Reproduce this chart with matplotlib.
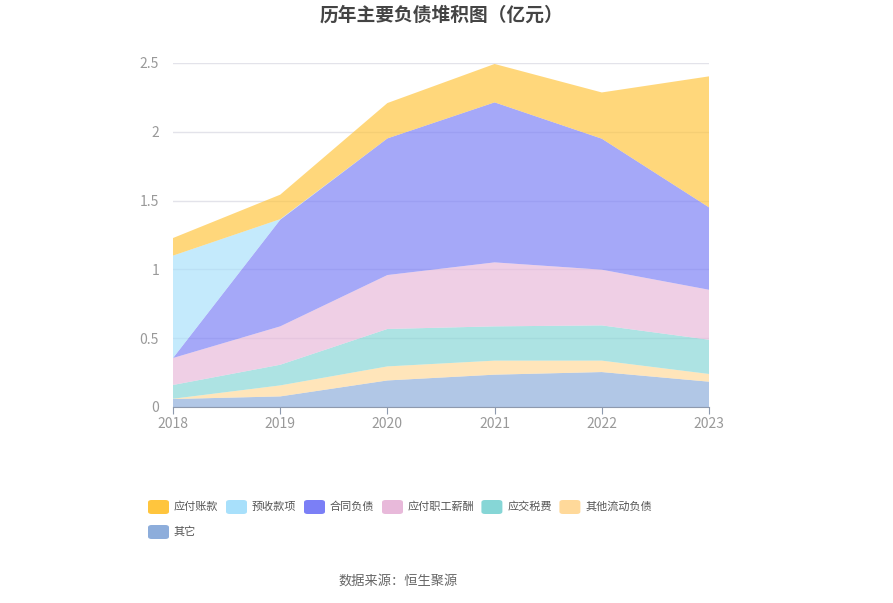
import numpy as np
import matplotlib
matplotlib.use("Agg")
import matplotlib.pyplot as plt
from matplotlib.patches import FancyBboxPatch

plt.rcParams['font.family'] = ['Noto Sans CJK SC', 'DejaVu Sans']

years = [2018, 2019, 2020, 2021, 2022, 2023]

# stacked bottom -> top (亿元)
other = [0.058, 0.077, 0.193, 0.235, 0.254, 0.184]
other_current = [0.002, 0.080, 0.102, 0.102, 0.083, 0.056]
taxes = [0.100, 0.150, 0.272, 0.249, 0.256, 0.249]
payroll = [0.196, 0.279, 0.392, 0.465, 0.405, 0.363]
contract = [0.000, 0.775, 0.993, 1.163, 0.952, 0.599]
advance = [0.744, 0.004, 0.000, 0.000, 0.000, 0.000]
payable = [0.128, 0.178, 0.257, 0.279, 0.336, 0.952]

names = ['其它', '其他流动负债', '应交税费', '应付职工薪酬', '合同负债', '预收款项', '应付账款']
series = [other, other_current, taxes, payroll, contract, advance, payable]
colors = ['#8DADDB', '#FFD99A', '#86D6D6', '#E8B9DA', '#7B7FF6', '#A8E0FB', '#FFC53D']

legend_order = ['应付账款', '预收款项', '合同负债', '应付职工薪酬', '应交税费', '其他流动负债', '其它']

fig = plt.figure(figsize=(8.93, 6.03), dpi=100)
ax = fig.add_axes([173 / 893, 1 - 407 / 603, 536 / 893, 344 / 603])

ax.stackplot(years, *series, colors=colors, alpha=0.68, linewidth=0)

ax.set_xlim(2018, 2023)
ax.set_ylim(0, 2.5)
ax.set_yticks([0, 0.5, 1, 1.5, 2, 2.5])
ax.set_yticklabels(['0', '0.5', '1', '1.5', '2', '2.5'])
ax.set_xticks(years)
ax.set_xticklabels([str(y) for y in years])
ax.grid(axis='y', color='#E3E3EA', linewidth=1)
ax.set_axisbelow(True)
for s in ['top', 'right', 'left']:
    ax.spines[s].set_visible(False)
ax.spines['bottom'].set_color('#8E9AAE')
ax.spines['bottom'].set_zorder(5)
ax.tick_params(axis='y', length=0, pad=10, labelcolor='#999999', labelsize=10)
ax.tick_params(axis='x', length=5, color='#8E9AAE', labelcolor='#999999', labelsize=10, pad=2)

fig.text(441 / 893, 1 - 15 / 603, '历年主要负债堆积图（亿元）', ha='center', va='center',
         fontsize=13.5, fontweight='bold', color='#444444')

# manual legend
lookup = dict(zip(names, colors))
x0, x = 148, 148
y_row = 507
for i, name in enumerate(legend_order):
    if i == 6:
        x = x0
        y_row = 532
    patch = FancyBboxPatch((x / 893, 1 - (y_row + 7) / 603), 21 / 893, 14 / 603,
                           boxstyle='round,pad=0,rounding_size=0.004',
                           transform=fig.transFigure, facecolor=lookup[name],
                           edgecolor='none')
    fig.add_artist(patch)
    fig.text((x + 26) / 893, 1 - y_row / 603, name, ha='left', va='center',
             fontsize=8, color='#555555')
    x += 26 + len(name) * 10.7 + 9.2

fig.text(398 / 893, 1 - 581 / 603, '数据来源：恒生聚源', ha='center', va='center',
         fontsize=9.5, color='#666666')

fig.savefig('out.png', dpi=100)
